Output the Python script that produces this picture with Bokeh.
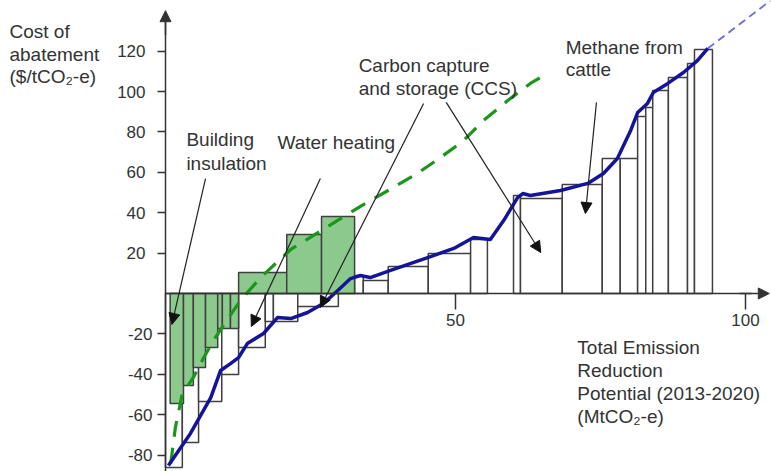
from bokeh.plotting import figure
from bokeh.models import Range1d, FixedTicker, LinearAxis, Arrow, NormalHead, Label
from bokeh.embed import file_html
from bokeh.resources import INLINE

# ---------------- data ----------------
# white (abatement option) bars: left edge, right edge, cost ($/tCO2-e)
white_left = [0.0, 2.9, 5.7, 9.7, 12.6, 17.2, 18.6, 22.8, 29.8, 32.6, 34.1, 38.4, 45.3, 52.6,
              60.0, 61.2, 68.4, 75.3, 78.4, 81.4, 82.8, 84.0, 86.7, 90.0, 91.2]
white_right = [2.9, 5.7, 9.7, 12.6, 17.2, 18.6, 22.8, 29.8, 32.6, 34.1, 38.4, 45.3, 52.6, 55.5,
               61.2, 68.4, 75.3, 78.4, 81.4, 82.8, 84.0, 86.7, 90.0, 91.2, 94.3]
white_cost = [-86.1, -73.8, -53.5, -40.1, -26.7, -13.9, -13.9, -6.4, 6.4, 8.9, 6.4, 13.4, 19.8, 26.7,
              48.5, 47.0, 54.0, 66.8, 66.8, 87.6, 92.1, 100.5, 106.9, 113.9, 120.8]

# green (building sector) bars
green_left = [0.8, 3.1, 4.8, 6.9, 9.0, 9.8, 11.2, 12.6, 20.9, 26.9]
green_right = [3.1, 4.8, 6.9, 9.0, 9.8, 11.2, 12.6, 20.9, 26.9, 32.6]
green_cost = [-54.5, -45.5, -36.6, -26.7, -17.3, -17.3, -17.3, 10.4, 29.2, 38.1]

# blue marginal abatement cost curve
mac_x = [0.5, 4.3, 7.8, 9.5, 11.2, 12.6, 14.1, 16.9, 19.3, 21.6, 24.5, 27.2, 29.7, 31.9, 33.6,
         35.3, 38.8, 45.2, 49.7, 53.1, 56.0, 58.3, 60.7, 61.6, 62.9, 68.1, 72.8, 75.5, 77.9,
         80.2, 81.4, 83.1, 84.1, 86.6, 89.3, 91.7, 93.5]
mac_y = [-85.1, -69.3, -51.5, -38.1, -34.7, -31.7, -24.8, -19.8, -11.9, -12.4, -9.4, -5.0, 1.5,
         7.4, 8.9, 7.9, 11.4, 17.8, 22.3, 27.7, 26.7, 36.1, 47.5, 49.5, 48.5, 51.0, 54.5, 59.4,
         66.8, 80.7, 89.6, 94.1, 99.5, 104.0, 109.4, 115.3, 121.3]

# blue dashed extension of the curve
ext_x = [93.5, 104.3]
ext_y = [121.3, 145.0]

# green dashed curve
grn_x = [0.9, 1.7, 2.9, 4.8, 6.6, 8.6, 10.9, 12.9, 16.4, 21.6, 26.7, 33.6, 39.3, 43.4, 47.4,
         51.4, 54.8, 59.0, 62.9, 65.5]
grn_y = [-84.2, -66.3, -49.5, -41.6, -31.7, -21.8, -11.9, -3.5, 7.9, 21.8, 30.9, 43.1, 52.5,
         59.4, 67.3, 75.7, 85.6, 95.5, 104.0, 108.4]

y_ticks_pos = [20, 40, 60, 80, 100, 120]
y_ticks_neg = [-20, -40, -60, -80]
x_ticks = [50, 100]

FONT = "Liberation Sans"
TXT = "#333333"
AX = "#333333"

p = figure(width=771, height=471, x_range=Range1d(-28.45, 104.48), y_range=Range1d(-88.12, 145.05),
           output_backend="svg", toolbar_location=None, title=None, min_border=0)
p.grid.visible = False
p.outline_line_color = None

# bars
p.quad(left=white_left, right=white_right, bottom=0, top=white_cost,
       fill_color="white", line_color="#404040", line_width=1.5)
p.quad(left=green_left, right=green_right, bottom=0, top=green_cost,
       fill_color="#8cc98c", line_color="#404040", line_width=1.5)

# curves
p.line(grn_x, grn_y, line_color="#1a961a", line_width=3.2, line_dash="16 11")
p.line(ext_x, ext_y, line_color="#6b6be0", line_width=1.8, line_dash="8 5")
p.line(mac_x, mac_y, line_color="#14149a", line_width=3.5, line_join="round")

# axes
xa = p.xaxis[0]
xa.fixed_location = 0
xa.ticker = FixedTicker(ticks=x_ticks)
xa.bounds = (0, 101)
xa.major_tick_out = 16
xa.major_tick_in = 0
xa.minor_tick_line_color = None
xa.axis_line_color = AX
xa.axis_line_width = 1.5
xa.major_tick_line_color = AX
xa.major_tick_line_width = 1.5
xa.major_label_text_font = FONT
xa.major_label_text_font_size = "17px"
xa.major_label_text_color = TXT
xa.major_label_standoff = 5

ya = p.yaxis[0]
ya.fixed_location = 0
ya.ticker = FixedTicker(ticks=y_ticks_pos)
ya.bounds = (-89, 136)
ya.major_tick_out = 8
ya.major_tick_in = 0
ya.minor_tick_line_color = None
ya.axis_line_color = AX
ya.axis_line_width = 1.5
ya.major_tick_line_color = AX
ya.major_tick_line_width = 1.5
ya.major_label_text_font = FONT
ya.major_label_text_font_size = "17px"
ya.major_label_text_color = TXT
ya.major_label_standoff = 12

ya2 = LinearAxis(fixed_location=0, ticker=FixedTicker(ticks=y_ticks_neg),
                 major_label_overrides={t: "-" + str(abs(t)) for t in y_ticks_neg},
                 axis_line_color=None, major_tick_out=8, major_tick_in=0,
                 minor_tick_line_color=None, major_tick_line_color=AX, major_tick_line_width=1.5,
                 major_label_text_font=FONT, major_label_text_font_size="17px",
                 major_label_text_color=TXT, major_label_standoff=5)
p.add_layout(ya2, "left")

# axis arrowheads
p.add_layout(Arrow(end=NormalHead(size=11, fill_color=AX, line_color=AX),
                   x_start=0, y_start=128, x_end=0, y_end=140.0, line_color=AX, line_width=1.5))
p.add_layout(Arrow(end=NormalHead(size=11, fill_color=AX, line_color=AX),
                   x_start=99, y_start=0, x_end=104.1, y_end=0, line_color=AX, line_width=1.5))

# annotation pointers (start x, start y, end x, end y)
pointers = [
    (6.9, 56.9, 1.1, -15.3),
    (26.7, 56.9, 14.8, -16.3),
    (44.5, 94.1, 26.7, -6.9),
    (48.4, 94.6, 64.7, 20.3),
    (74.3, 94.6, 72.4, 39.6),
]
for xs, ys, xe, ye in pointers:
    p.add_layout(Arrow(end=NormalHead(size=11, fill_color="#111111", line_color="#111111"),
                       x_start=xs, y_start=ys, x_end=xe, y_end=ye,
                       line_color="#222222", line_width=1.2))

# texts (x, y, text)
texts = [
    (-26.9, 129.7, "Cost of"),
    (-26.9, 118.5, "abatement"),
    (-26.9, 107.5, "($/tCO\u2082-e)"),
    (3.6, 76.0, "Building"),
    (3.6, 64.4, "insulation"),
    (19.3, 74.9, "Water heating"),
    (33.3, 113.1, "Carbon capture"),
    (33.3, 101.7, "and storage (CCS)"),
    (69.0, 121.9, "Methane from"),
    (69.0, 110.9, "cattle"),
    (71.0, -26.6, "Total Emission"),
    (71.0, -38.1, "Reduction"),
    (71.0, -49.7, "Potential (2013-2020)"),
    (71.0, -61.0, "(MtCO\u2082-e)"),
]
for tx, ty, tt in texts:
    p.add_layout(Label(x=tx, y=ty, text=tt, text_font=FONT, text_font_size="19px",
                       text_color=TXT, text_align="left", text_baseline="middle"))

open("out.html", "w").write(file_html(p, INLINE))
